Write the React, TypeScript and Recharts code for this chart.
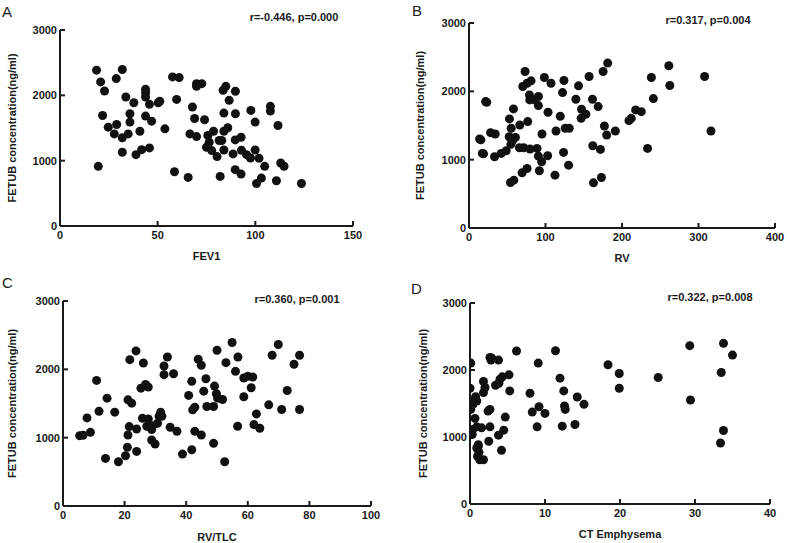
import React from 'react';
import { ScatterChart, Scatter, XAxis, YAxis } from 'recharts';

// values, [x, FETUB ng/ml]
const fev1Points: [number, number][] = [
  [18.7, 2385], [20.8, 2205], [22.8, 2067], [21.8, 1692], [19.6, 913], [24.7, 1513],
  [28.8, 2256], [29, 1554], [27.8, 1410], [31.9, 2395], [33.7, 1974], [31.9, 1349],
  [31.9, 1128], [34.9, 1410], [35.8, 1718], [35.8, 1590], [37.8, 1887], [38.9, 1092],
  [40.9, 1451], [41.8, 1169], [43.8, 2092], [43.8, 2040], [43.8, 1974], [43.8, 1682],
  [45.8, 1195], [45.8, 1862], [46.9, 1605], [50.3, 1887], [51.1, 1908], [53.7, 1487],
  [57.6, 2282], [61, 2272], [59.7, 1938], [58.6, 831], [65.6, 744], [66.5, 1410],
  [67.8, 1821], [68.9, 1646], [69.9, 1369], [69.9, 2179], [69.9, 2138], [72.6, 2179],
  [74, 1626], [75.7, 1385], [76.4, 1282], [75, 1205], [77.7, 1154], [78.6, 1451],
  [80.4, 1062], [81.5, 1308], [82.8, 1308], [82, 759], [83.5, 2077], [84.9, 2138],
  [83.9, 1728], [83.9, 1451], [83.9, 1164], [85.9, 1503], [86.6, 1923], [88.6, 1103],
  [89.8, 2062], [89.8, 1718], [89.7, 1318], [89.7, 862], [92.7, 1359], [92.7, 795],
  [92.9, 1159], [95.5, 1092], [97.5, 1041], [97.7, 1769], [99.9, 1164], [99.9, 1590],
  [100.6, 651], [101.9, 1036], [103.1, 733], [104.8, 913], [107.7, 1831], [107.7, 1759],
  [111.6, 1538], [110.8, 692], [113, 964], [114.7, 913], [123.6, 651],
];

const rvPoints: [number, number][] = [
  [13.9, 1302], [15.5, 1290], [17.4, 1092], [19, 1085], [21.7, 1850], [23.2, 1840],
  [28.2, 1395], [34.3, 1375], [33.4, 1043], [42.1, 1092], [48.6, 1131], [52.5, 1336],
  [52.9, 1596], [55.1, 1459], [54.7, 1224], [57.3, 1287], [60.7, 1326], [58.1, 1743],
  [54.2, 666], [58.6, 700], [65.9, 1175], [66.4, 1508], [69.4, 808], [71.6, 1175],
  [73.3, 2291], [70.3, 2070], [75.9, 2119], [76.8, 1557], [75.9, 871], [79, 1948],
  [81.1, 2154], [79.4, 1875], [79.8, 1155], [85.5, 1875], [88.9, 1165], [90.7, 1924],
  [90.7, 1791], [90.7, 1052], [92, 837], [95, 969], [95.4, 1375], [98.5, 2203],
  [102.8, 1057], [103.3, 1694], [107.2, 2119], [113.7, 1419], [112.4, 773], [119.3, 1635],
  [122.3, 1982], [124.1, 2159], [123.6, 1106], [125.8, 1459], [131, 1459], [130.2, 920],
  [139.7, 1884], [143.2, 2080], [146.6, 1605], [147.1, 1738], [152.7, 1664], [157, 2217],
  [161.4, 1884], [161.8, 1204], [162.7, 661], [168.8, 1777], [171.8, 1150], [173.1, 739],
  [175.3, 2291], [177, 1493], [180, 1361], [181.3, 2413], [191.3, 1419], [209.1, 1571],
  [212.1, 1605], [217.8, 1728], [225.2, 1703], [238.4, 2203], [233.4, 1165], [241, 1894],
  [261.2, 2374], [262.5, 2085], [308, 2217], [316.3, 1419],
];

const rvTlcPoints: [number, number][] = [
  [5.4, 1029], [6.5, 1035], [7.8, 1289], [8.9, 1078], [10.9, 1838], [11.7, 1387],
  [14.3, 1578], [13.8, 696], [16.8, 1373], [18, 647], [20.3, 735], [20.9, 858],
  [21.1, 1039], [21.1, 1554], [21.7, 2142], [21.5, 1162], [22.3, 1505], [23.7, 2270],
  [23.9, 799], [23.9, 1127], [25.3, 1725], [25.8, 1284], [26.1, 2093], [26.8, 1779],
  [27.7, 1740], [27.2, 1167], [27.7, 1275], [28.8, 1118], [28.8, 966], [29.1, 1176],
  [29.9, 907], [30.7, 1211], [31.2, 1314], [31.7, 1373], [32.1, 1314], [32.8, 2049],
  [32.8, 1922], [33.9, 2181], [34.8, 1152], [35.9, 1936], [37, 1093], [38.8, 760],
  [40.8, 1618], [41.8, 1824], [41.8, 824], [42.1, 1407], [42.8, 1446], [42.8, 1093],
  [43.9, 2147], [44.9, 2059], [44.9, 1039], [45.7, 1681], [46.4, 1863], [46.7, 1456],
  [48.9, 1456], [48.9, 917], [49.2, 1755], [49.8, 1642], [50, 2279], [50.2, 1578],
  [51.8, 1559], [52.5, 647], [52.9, 2098], [54.9, 2392], [56, 1971], [56.7, 1167],
  [56.8, 2181], [58.7, 1598], [58.7, 1873], [60, 1897], [61.6, 1887], [61.1, 1730],
  [62, 1191], [62.8, 1348], [63.9, 1137], [66.8, 1480], [67.9, 2206], [69.9, 2363],
  [71, 1412], [72.8, 1691], [75, 2074], [76.8, 2206], [76.8, 1412],
];

const ctEmphysemaPoints: [number, number][] = [
  [0.1, 2103], [0, 1728], [0.1, 1412], [0.3, 1037], [0.35, 1112], [0.4, 1487],
  [0.66, 1277], [0.66, 1562], [0.75, 1602], [0.9, 1537], [0.9, 1152], [0.9, 836],
  [1, 711], [1.1, 886], [1.1, 861], [1.2, 771], [1.3, 661], [1.55, 1137],
  [1.8, 661], [1.8, 1828], [1.8, 1663], [2, 1738], [2.4, 1387], [2.5, 936],
  [2.66, 1412], [2.66, 2188], [2.8, 2148], [2.9, 2178], [2.66, 1152], [3.4, 1773],
  [3.8, 1027], [3.8, 2148], [3.85, 1803], [4, 1863], [4.3, 1898], [4.2, 801],
  [4.5, 1102], [4.7, 1297], [5.2, 1928], [5.3, 1688], [6.2, 2283], [8, 1653],
  [8.3, 1372], [9.1, 2103], [9.2, 1452], [8.95, 1152], [10, 1352], [11.4, 2288],
  [12, 1878], [12.3, 1162], [12.5, 1688], [12.6, 1462], [12.7, 1412], [14, 1187],
  [14.3, 1597], [15.2, 1487], [18.4, 2078], [19.9, 1948], [19.9, 1728], [25.1, 1888],
  [29.3, 2363], [29.4, 1552], [33.8, 2398], [33.5, 1963], [33.8, 1097], [33.4, 911],
  [35, 2223],
];

const yTicks = [0, 1000, 2000, 3000];
const fev1Ticks = [0, 50, 100, 150];
const rvTicks = [0, 100, 200, 300, 400];
const rvTlcTicks = [0, 20, 40, 60, 80, 100];
const ctTicks = [0, 10, 20, 30, 40];

const FONT = '"Liberation Sans", Arial, Helvetica, sans-serif';
const INK = '#1a1a1a';

const Dot = (props: any) => <circle cx={props.cx} cy={props.cy} r={4.5} fill="#111" />;

interface PanelProps {
  left: number;
  top: number;
  width: number;
  height: number;
  margin: { top: number; right: number; bottom: number; left: number };
  yWidth: number;
  xHeight: number;
  points: [number, number][];
  xTicks: number[];
  xLabel: string;
  xLabelOffset: number;
  yLabelOffset: number;
  letter: string;
  letterPos: { x: number; y: number };
  stat: string;
  statPos: { x: number; y: number };
}

const Panel: React.FC<PanelProps> = (p) => {
  const data = p.points.map(([x, y]) => ({ x, y }));
  const tickStyle = { fontSize: 11, fontWeight: 700, fill: INK, fontFamily: FONT };
  return (
    <div style={{ position: 'absolute', left: p.left, top: p.top, width: p.width, height: p.height }}>
      <ScatterChart width={p.width} height={p.height} margin={p.margin}>
        <XAxis
          type="number"
          dataKey="x"
          domain={[p.xTicks[0], p.xTicks[p.xTicks.length - 1]]}
          ticks={p.xTicks}
          interval={0}
          height={p.xHeight}
          tickSize={-5}
          tickMargin={10}
          stroke={INK}
          strokeWidth={2}
          tick={tickStyle}
          allowDataOverflow
          label={{
            value: p.xLabel,
            position: 'insideBottom',
            offset: p.xLabelOffset,
            style: { fontSize: 11, fontWeight: 700, fill: INK, fontFamily: FONT },
          }}
        />
        <YAxis
          type="number"
          dataKey="y"
          domain={[0, 3000]}
          ticks={yTicks}
          interval={0}
          width={p.yWidth}
          tickSize={-5}
          tickMargin={8}
          stroke={INK}
          strokeWidth={2}
          tick={tickStyle}
          allowDataOverflow
          label={{
            value: 'FETUB concentration(ng/ml)',
            angle: -90,
            position: 'insideLeft',
            offset: p.yLabelOffset,
            style: { textAnchor: 'middle', fontSize: 11, fontWeight: 700, fill: INK, fontFamily: FONT },
          }}
        />
        <Scatter data={data} shape={Dot} isAnimationActive={false} />
      </ScatterChart>
      <div
        style={{
          position: 'absolute',
          left: p.letterPos.x,
          top: p.letterPos.y,
          fontSize: 15,
          fontFamily: FONT,
          color: INK,
          lineHeight: 1,
        }}
      >
        {p.letter}
      </div>
      <div
        style={{
          position: 'absolute',
          left: p.statPos.x - 60,
          width: 120,
          textAlign: 'center',
          top: p.statPos.y - 7,
          fontSize: 11,
          fontWeight: 700,
          fontFamily: FONT,
          color: INK,
          lineHeight: '14px',
        }}
      >
        {p.stat}
      </div>
    </div>
  );
};

export default function App() {
  return (
    <div style={{ position: 'absolute', left: 0, top: 0, width: 787, height: 543, background: '#fff', overflow: 'hidden' }}>
      <Panel
        left={0}
        top={0}
        width={393}
        height={272}
        margin={{ top: 30, right: 40, bottom: 6, left: 0 }}
        yWidth={60}
        xHeight={40}
        points={fev1Points}
        xTicks={fev1Ticks}
        xLabel="FEV1"
        xLabelOffset={6}
        yLabelOffset={12}
        letter="A"
        letterPos={{ x: 2, y: 4 }}
        stat="r=-0.446, p=0.000"
        statPos={{ x: 294, y: 17 }}
      />
      <Panel
        left={393}
        top={0}
        width={394}
        height={272}
        margin={{ top: 23, right: 12, bottom: 0, left: 0 }}
        yWidth={76}
        xHeight={44}
        points={rvPoints}
        xTicks={rvTicks}
        xLabel="RV"
        xLabelOffset={10}
        yLabelOffset={27}
        letter="B"
        letterPos={{ x: 19, y: 3 }}
        stat="r=0.317, p=0.004"
        statPos={{ x: 315, y: 20 }}
      />
      <Panel
        left={0}
        top={272}
        width={393}
        height={271}
        margin={{ top: 29, right: 22, bottom: 0, left: 0 }}
        yWidth={63}
        xHeight={37}
        points={rvTlcPoints}
        xTicks={rvTlcTicks}
        xLabel="RV/TLC"
        xLabelOffset={2}
        yLabelOffset={12}
        letter="C"
        letterPos={{ x: 2, y: 3 }}
        stat="r=0.360, p=0.001"
        statPos={{ x: 297, y: 27 }}
      />
      <Panel
        left={393}
        top={272}
        width={394}
        height={271}
        margin={{ top: 31, right: 17, bottom: 0, left: 0 }}
        yWidth={77}
        xHeight={39}
        points={ctEmphysemaPoints}
        xTicks={ctTicks}
        xLabel="CT Emphysema"
        xLabelOffset={5}
        yLabelOffset={30}
        letter="D"
        letterPos={{ x: 18, y: 9 }}
        stat="r=0.322, p=0.008"
        statPos={{ x: 317, y: 25 }}
      />
    </div>
  );
}
